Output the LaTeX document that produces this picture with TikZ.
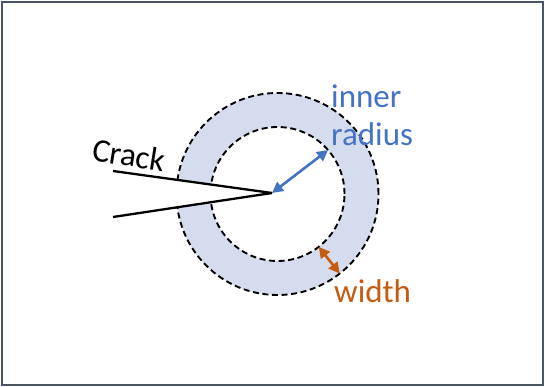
\documentclass[tikz,border=0pt]{standalone}
\usepackage{fontspec}
\setmainfont{Carlito}
\usetikzlibrary{arrows.meta,calc}
\definecolor{ringfill}{HTML}{D5DCEE}
\definecolor{radblue}{HTML}{4472C4}
\definecolor{widorange}{HTML}{C55A11}
\definecolor{framecol}{HTML}{4A5466}
\tikzset{
  dashring/.style={draw=black, line width=1.9pt, dash pattern=on 6pt off 3.6pt},
  crackline/.style={draw=black, line width=2.3pt},
  dimarrow/.style={line width=2.6pt, {Triangle[length=11pt,width=11pt]}-{Triangle[length=11pt,width=11pt]}},
  lbl/.style={inner sep=0pt, font=\fontsize{33}{38}\selectfont},
}
\begin{document}
\begin{tikzpicture}[x=1pt,y=-1pt]
\useasboundingbox (0,0) rectangle (545,387);
\draw[framecol, line width=2.2pt] (1.8,1.8) rectangle (543.2,385.2);
\coordinate (C) at (277.5,194);
\coordinate (p1) at (113,171);
\coordinate (p2) at (113,217);
\coordinate (tip) at (272,193);
% ring
\fill[ringfill, even odd rule] (C) circle[radius=101pt] (C) circle[radius=67pt];
\draw[dashring] (C) circle[radius=101pt];
\draw[dashring] (C) circle[radius=67pt];
% crack
\fill[white] (p1) -- (tip) -- (p2) -- cycle;
\draw[crackline] (p1) -- (tip);
\draw[crackline] (p2) -- (tip);
\node[lbl, rotate=-9] (crack) at (129,155) {Crack};
% inner radius arrow
\coordinate (ir) at ($(C)+(41:67pt)$);
\draw[dimarrow, radblue] (tip) -- (ir);
\node[lbl, anchor=base west, text=radblue] (inner) at (331,108) {inner};
\node[lbl, anchor=base west, text=radblue] (radius) at (331,146) {radius};
% width arrow
\coordinate (wi) at ($(C)+(-52:67pt)$);
\coordinate (wo) at ($(C)+(-52:101pt)$);
\draw[dimarrow, widorange] (wi) -- (wo);
\node[lbl, anchor=base west, text=widorange] (width) at (334,302) {width};
\end{tikzpicture}
\end{document}
